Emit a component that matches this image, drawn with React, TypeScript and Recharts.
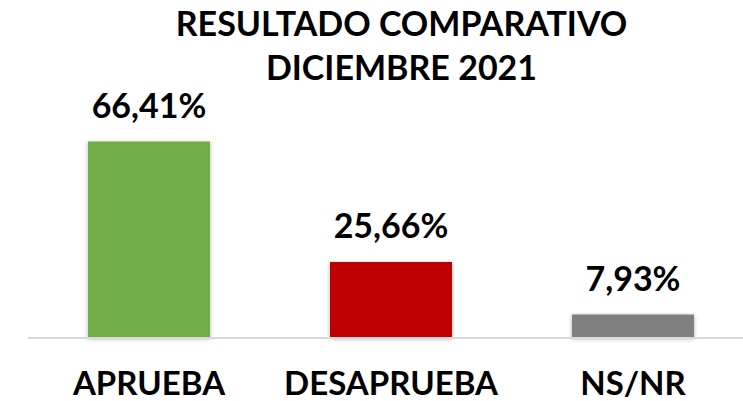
import { Bar, BarChart, Cell, LabelList, XAxis, YAxis } from "recharts";

const categories = ["APRUEBA", "DESAPRUEBA", "NS/NR"];
const values = [66.41, 25.66, 7.93];
const barColors = ["#70ad47", "#c00000", "#808080"];
const titleLines = ["RESULTADO COMPARATIVO", "DICIEMBRE 2021"];

const data = categories.map((name, i) => ({ name, value: values[i] }));

const FONT = "Lato, 'Noto Sans', sans-serif";

const fmt = (v: unknown) => `${Number(v).toFixed(2).replace(".", ",")}%`;

function CategoryTick(props: any) {
  const { x, y, payload } = props;
  return (
    <text x={x} y={y + 49} textAnchor="middle" fontFamily={FONT} fontWeight={700} fontSize={33} fill="#000">
      {payload.value}
    </text>
  );
}

export default function App() {
  return (
    <div style={{ position: "absolute", left: 0, top: 0, width: 743, height: 401, overflow: "hidden", background: "#fff" }}>
      <BarChart width={754} height={401} data={data} margin={{ top: 131, right: 0, left: 28, bottom: 0 }} barSize={122}>
        <defs>
          <filter id="barShadow" x="-10%" y="-10%" width="120%" height="130%">
            <feDropShadow dx="0" dy="1" stdDeviation="2" floodColor="#000" floodOpacity="0.3" />
          </filter>
        </defs>
        <YAxis hide domain={[0, 70]} />
        <XAxis
          dataKey="name"
          height={63}
          axisLine={{ stroke: "#d9d9d9", strokeWidth: 2 }}
          tickLine={false}
          tick={<CategoryTick />}
          interval={0}
        />
        <Bar dataKey="value" isAnimationActive={false} filter="url(#barShadow)">
          {data.map((_, i) => (
            <Cell key={i} fill={barColors[i]} />
          ))}
          <LabelList
            dataKey="value"
            position="top"
            offset={24}
            formatter={fmt}
            style={{ fontFamily: FONT, fontWeight: 700, fontSize: 34, fill: "#000" }}
          />
        </Bar>
      </BarChart>
      {titleLines.map((t, i) => (
        <div
          key={i}
          style={{
            position: "absolute",
            left: 0,
            width: 803,
            top: i * 44 + 1,
            textAlign: "center",
            fontFamily: FONT,
            fontWeight: 700,
            fontSize: 34,
            lineHeight: "44px",
            color: "#000",
          }}
        >
          {t}
        </div>
      ))}
    </div>
  );
}
